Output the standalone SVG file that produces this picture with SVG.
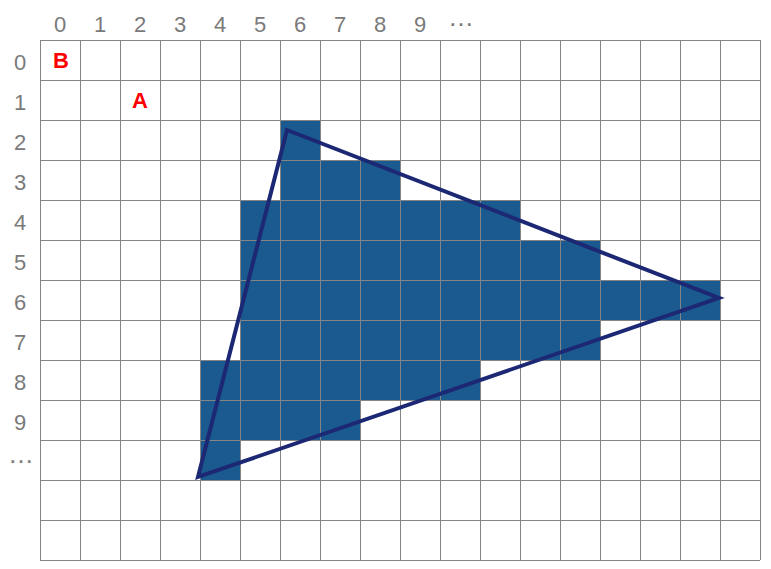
<svg xmlns="http://www.w3.org/2000/svg" width="771" height="569" viewBox="0 0 771 569">
<style>
.lbl{font-family:"Liberation Sans",Arial,sans-serif;font-size:22px;fill:#7a7a7a;text-anchor:middle}
.dots{font-family:"Liberation Sans",Arial,sans-serif;font-size:26px;fill:#7a7a7a;text-anchor:middle}
.mark{font-family:"Liberation Sans",Arial,sans-serif;font-size:22px;font-weight:bold;fill:#ff0000;text-anchor:middle}
.cell{fill:#1b5a8f}
.grid{stroke:#858585;stroke-width:1;fill:none}
.tri{fill:none;stroke:#1c2873;stroke-width:4;stroke-linejoin:miter}
</style>
<rect width="771" height="569" fill="#ffffff"/>
<g id="cells">
<rect class="cell" x="280" y="120" width="40" height="40"/>
<rect class="cell" x="280" y="160" width="120" height="40"/>
<rect class="cell" x="240" y="200" width="280" height="40"/>
<rect class="cell" x="240" y="240" width="360" height="40"/>
<rect class="cell" x="240" y="280" width="480" height="40"/>
<rect class="cell" x="240" y="320" width="360" height="40"/>
<rect class="cell" x="200" y="360" width="280" height="40"/>
<rect class="cell" x="200" y="400" width="160" height="40"/>
<rect class="cell" x="200" y="440" width="40" height="40"/>
</g>
<g id="grid" class="grid">
<path d="M40.5 40V560M80.5 40V560M120.5 40V560M160.5 40V560M200.5 40V560M240.5 40V560M280.5 40V560M320.5 40V560M360.5 40V560M400.5 40V560M440.5 40V560M480.5 40V560M520.5 40V560M560.5 40V560M600.5 40V560M640.5 40V560M680.5 40V560M720.5 40V560M760.5 40V560"/>
<path d="M40 40.5H760M40 80.5H760M40 120.5H760M40 160.5H760M40 200.5H760M40 240.5H760M40 280.5H760M40 320.5H760M40 360.5H760M40 400.5H760M40 440.5H760M40 480.5H760M40 520.5H760M40 560.5H760"/>
</g>
<g id="col-labels">
<text class="lbl" x="60" y="32">0</text>
<text class="lbl" x="100" y="32">1</text>
<text class="lbl" x="140" y="32">2</text>
<text class="lbl" x="180" y="32">3</text>
<text class="lbl" x="220" y="32">4</text>
<text class="lbl" x="260" y="32">5</text>
<text class="lbl" x="300" y="32">6</text>
<text class="lbl" x="340" y="32">7</text>
<text class="lbl" x="380" y="32">8</text>
<text class="lbl" x="420" y="32">9</text>
<text class="dots" x="461" y="26">…</text>
</g>
<g id="row-labels">
<text class="lbl" x="20" y="70">0</text>
<text class="lbl" x="20" y="110">1</text>
<text class="lbl" x="20" y="150">2</text>
<text class="lbl" x="20" y="190">3</text>
<text class="lbl" x="20" y="230">4</text>
<text class="lbl" x="20" y="270">5</text>
<text class="lbl" x="20" y="310">6</text>
<text class="lbl" x="20" y="350">7</text>
<text class="lbl" x="20" y="390">8</text>
<text class="lbl" x="20" y="430">9</text>
<text class="dots" x="21" y="463">…</text>
</g>
<g id="B"><text class="mark" x="61" y="68">B</text></g>
<g id="A"><text class="mark" x="140" y="108">A</text></g>
<g id="connectors">
<polygon class="tri" points="287,130 719,298 198,477"/>
</g>
</svg>
